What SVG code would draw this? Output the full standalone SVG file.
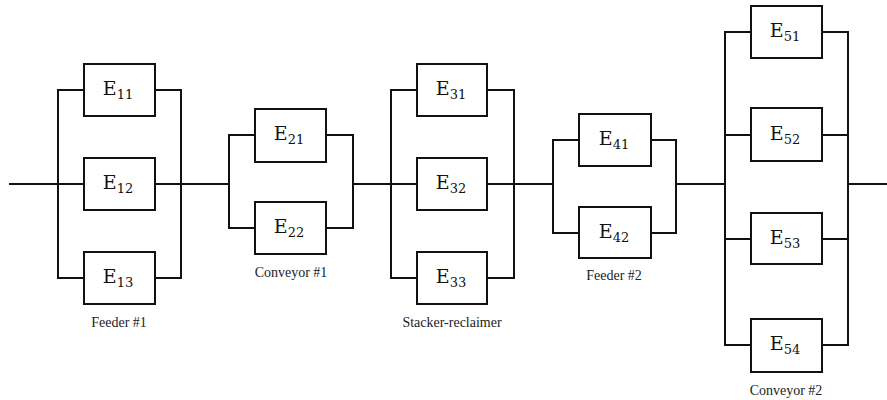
<svg xmlns="http://www.w3.org/2000/svg" width="887" height="400" viewBox="0 0 887 400">
  <style>
    .wire { fill: none; stroke: #111; stroke-width: 2; }
    .box { fill: #fff; stroke: #111; stroke-width: 2; }
    .lbl { font-family: "DejaVu Serif", "Liberation Serif", serif; font-size: 19px; fill: #111; text-anchor: middle; }
    .sub { font-size: 13px; }
    .cap { font-family: "Liberation Serif", serif; font-size: 14px; fill: #222; text-anchor: middle; }
  </style>

  <!-- Wiring: main line, parallel buses and branch stubs -->
  <g id="connectors" class="wire">
    <!-- main series line -->
    <path d="M9 184H58 M181 184H229 M353 184H391 M514 184H553 M676 184H724 M848 184H887"/>
    <!-- Feeder #1 -->
    <path d="M84 90H58V278H84 M84 184H58 M155 90H181V278H155 M155 184H181"/>
    <!-- Conveyor #1 -->
    <path d="M255 135H229V228H255 M326 135H353V228H326"/>
    <!-- Stacker-reclaimer -->
    <path d="M417 90H391V278H417 M417 184H391 M487 90H514V278H487 M487 184H514"/>
    <!-- Feeder #2 -->
    <path d="M579 140H553V233H579 M651 140H676V233H651"/>
    <!-- Conveyor #2 -->
    <path d="M751 32H725V345H751 M751 135H725 M751 239H725 M822 32H848V345H822 M822 135H848 M822 239H848"/>
  </g>

  <!-- Feeder #1 -->
  <g id="E11"><rect class="box" x="84" y="64" width="71" height="52"/><text class="lbl" x="118" y="95">E<tspan class="sub" dy="4">11</tspan></text></g>
  <g id="E12"><rect class="box" x="84" y="158" width="71" height="52"/><text class="lbl" x="118" y="189">E<tspan class="sub" dy="4">12</tspan></text></g>
  <g id="E13"><rect class="box" x="84" y="252" width="71" height="52"/><text class="lbl" x="118" y="283">E<tspan class="sub" dy="4">13</tspan></text></g>
  <text class="cap" x="119" y="327">Feeder #1</text>

  <!-- Conveyor #1 -->
  <g id="E21"><rect class="box" x="255" y="109" width="71" height="53"/><text class="lbl" x="289" y="140">E<tspan class="sub" dy="4">21</tspan></text></g>
  <g id="E22"><rect class="box" x="255" y="202" width="71" height="52"/><text class="lbl" x="289" y="233">E<tspan class="sub" dy="4">22</tspan></text></g>
  <text class="cap" x="291" y="277">Conveyor #1</text>

  <!-- Stacker-reclaimer -->
  <g id="E31"><rect class="box" x="417" y="64" width="70" height="52"/><text class="lbl" x="451" y="95">E<tspan class="sub" dy="4">31</tspan></text></g>
  <g id="E32"><rect class="box" x="417" y="158" width="70" height="52"/><text class="lbl" x="451" y="189">E<tspan class="sub" dy="4">32</tspan></text></g>
  <g id="E33"><rect class="box" x="417" y="252" width="70" height="52"/><text class="lbl" x="451" y="283">E<tspan class="sub" dy="4">33</tspan></text></g>
  <text class="cap" x="452" y="327">Stacker-reclaimer</text>

  <!-- Feeder #2 -->
  <g id="E41"><rect class="box" x="579" y="114" width="72" height="52"/><text class="lbl" x="614" y="145">E<tspan class="sub" dy="4">41</tspan></text></g>
  <g id="E42"><rect class="box" x="579" y="207" width="72" height="51"/><text class="lbl" x="614" y="238">E<tspan class="sub" dy="4">42</tspan></text></g>
  <text class="cap" x="614" y="280">Feeder #2</text>

  <!-- Conveyor #2 -->
  <g id="E51"><rect class="box" x="751" y="6" width="71" height="52"/><text class="lbl" x="785" y="37">E<tspan class="sub" dy="4">51</tspan></text></g>
  <g id="E52"><rect class="box" x="751" y="108" width="71" height="53"/><text class="lbl" x="785" y="140">E<tspan class="sub" dy="4">52</tspan></text></g>
  <g id="E53"><rect class="box" x="751" y="213" width="71" height="51"/><text class="lbl" x="785" y="244">E<tspan class="sub" dy="4">53</tspan></text></g>
  <g id="E54"><rect class="box" x="751" y="319" width="71" height="53"/><text class="lbl" x="785" y="350">E<tspan class="sub" dy="4">54</tspan></text></g>
  <text class="cap" x="786" y="395">Conveyor #2</text>
</svg>
